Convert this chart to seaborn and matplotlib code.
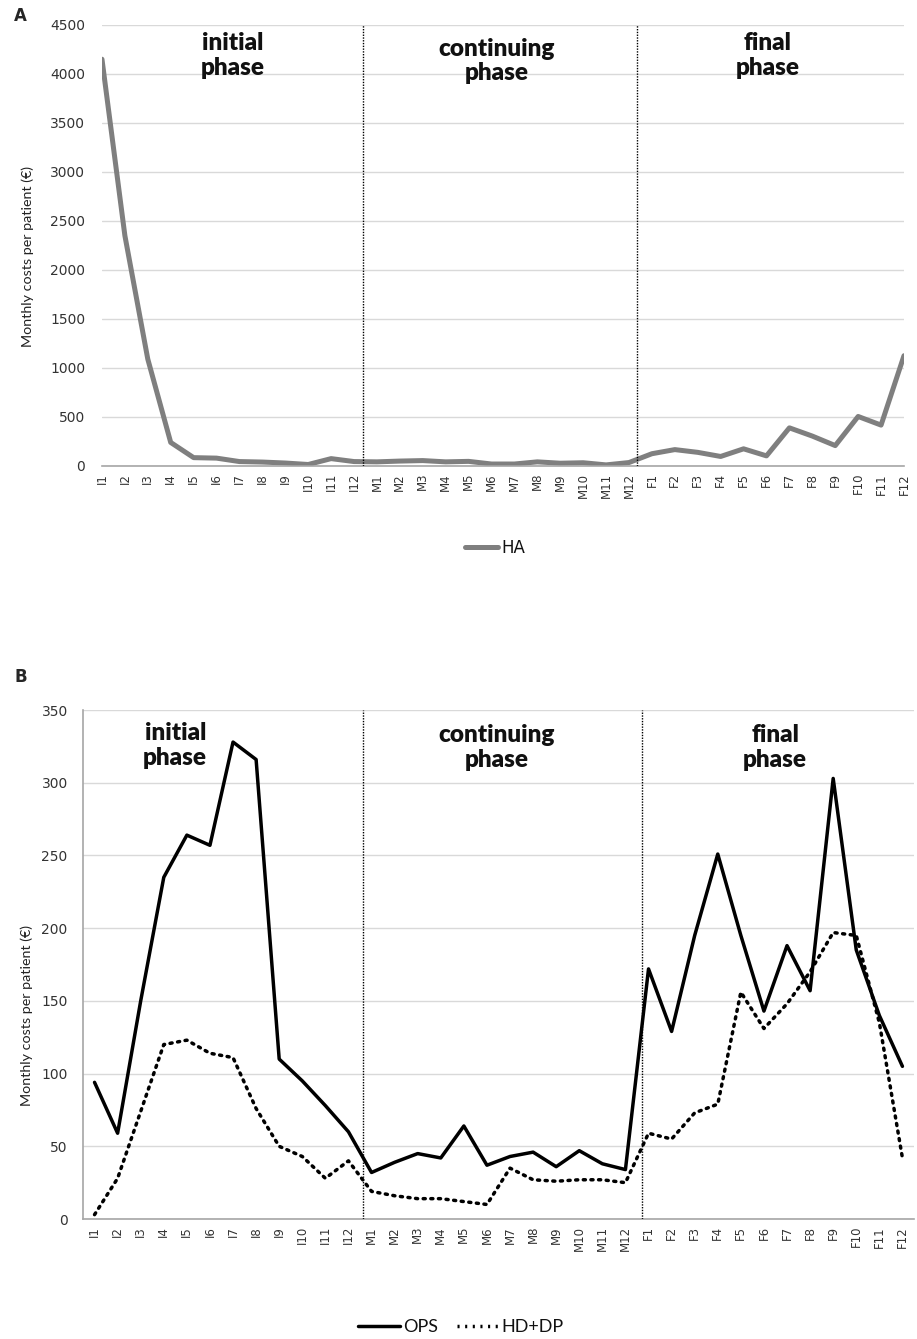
import pandas as pd
import matplotlib
matplotlib.use("Agg")
import matplotlib.pyplot as plt
import seaborn as sns

# month labels per phase
initial = ["I%d" % i for i in range(1, 13)]
continuing = ["M%d" % i for i in range(1, 13)]
final = ["F%d" % i for i in range(1, 13)]
months = initial + continuing + final

# panel A: hospital admissions
ha = [4150, 2350, 1090, 240, 85, 80, 45, 40, 30, 15, 75, 45,
      42, 50, 55, 42, 47, 20, 20, 42, 28, 33, 11, 35,
      125, 167, 139, 97, 175, 103, 389, 305, 208, 505, 417, 1125]

# panel B: outpatient services and HD+DP
ops = [94, 59, 150, 235, 264, 257, 328, 316, 110, 95, 78, 60,
       32, 39, 45, 42, 64, 37, 43, 46, 36, 47, 38, 34,
       172, 129, 195, 251, 195, 143, 188, 157, 303, 185, 140, 105]
hddp = [3, 28, 74, 120, 123, 114, 111, 76, 50, 43, 28, 40,
        19, 16, 14, 14, 12, 10, 35, 27, 26, 27, 27, 25,
        59, 55, 73, 79, 156, 131, 148, 170, 197, 195, 135, 42]

phase_labels = ["initial\nphase", "continuing\nphase", "final\nphase"]

sns.set_theme(style="white")
plt.rcParams["font.family"] = ["DejaVu Sans"]

GRID = "#d9d9d9"
TICK = "#333333"
DOTS = (0, (0.6, 1.6))

fig = plt.figure(figsize=(9.17, 13.39), dpi=100)
axA = fig.add_axes([0.1112, 0.652, 0.8746, 0.3294])
axB = fig.add_axes([0.0905, 0.0896, 0.9062, 0.3801])

dfA = pd.DataFrame({"month": months, "cost": ha, "series": "HA"})
sns.lineplot(data=dfA, x="month", y="cost", hue="series", palette=["#7f7f7f"],
             linewidth=3.6, sort=False, ax=axA)

dfB = pd.DataFrame({"month": months * 2, "cost": ops + hddp,
                    "series": ["OPS"] * 36 + ["HD+DP"] * 36})
sns.lineplot(data=dfB, x="month", y="cost", hue="series",
             palette=["black", "black"], linewidth=2.5, sort=False, ax=axB)
axB.lines[1].set_linestyle(DOTS)
axB.lines[1].set_dash_capstyle("round")
axB.lines[0].set_solid_joinstyle("round")
axA.lines[0].set_solid_joinstyle("round")

for ax, ymax, step, xlim, vlines, ypad in [
        (axA, 4500, 500, (0, 35), (11.37, 23.36), 12),
        (axB, 350, 50, (-0.5, 35.5), (11.64, 23.73), 11)]:
    ax.set_xlim(*xlim)
    ax.set_ylim(0, ymax)
    ax.set_yticks(range(0, ymax + 1, step))
    ax.yaxis.grid(True, color=GRID, linewidth=1)
    ax.xaxis.grid(False)
    ax.set_axisbelow(True)
    for s in ["top", "right", "left"]:
        ax.spines[s].set_visible(False)
    ax.spines["bottom"].set_color("#a6a6a6")
    ax.spines["bottom"].set_linewidth(1.2)
    ax.set_xticks(range(36))
    ax.set_xticklabels(months, rotation=90, fontsize=8.5, color=TICK)
    ax.tick_params(axis="y", labelsize=10, colors=TICK, length=0, pad=ypad)
    ax.tick_params(axis="x", length=0, pad=5)
    ax.set_xlabel("")
    ax.set_ylabel("Monthly costs per patient (€)", fontsize=10.3, color="#222222",
                  family=["Lato", "DejaVu Sans"])
    for v in vlines:
        ax.axvline(v, color="black", linewidth=1, linestyle=(0, (1, 1)),
                   ymin=0, ymax=1, zorder=3)

axB.spines["left"].set_visible(True)
axB.spines["left"].set_color("#a6a6a6")
axB.spines["left"].set_linewidth(1.2)

axA.yaxis.set_label_coords(-0.085, 0.474)
axB.yaxis.set_label_coords(-0.060, 0.40)

phase_font = dict(fontsize=17.5, fontweight="heavy", ha="center", va="center",
                  family=["Lato", "DejaVu Sans"], linespacing=1.15)
for ax, xs, ys in [(axA, (0.163, 0.4925, 0.83), (0.93, 0.918, 0.93)),
                   (axB, (0.111, 0.498, 0.833), (0.931, 0.927, 0.927))]:
    for lab, x, y in zip(phase_labels, xs, ys):
        ax.text(x, y, lab, transform=ax.transAxes, color="#111111", **phase_font)

legA = axA.legend(loc="center", bbox_to_anchor=(0.49, -0.186), frameon=False,
                  handlelength=2.0, handletextpad=0.2,
                  prop={"family": ["DejaVu Sans"], "size": 12})
legB = axB.legend(loc="center", bbox_to_anchor=(0.455, -0.212), frameon=False,
                  ncol=2, handlelength=2.3, handletextpad=0.2, columnspacing=1.0,
                  prop={"family": ["Liberation Sans Narrow", "Lato", "DejaVu Sans"],
                        "size": 13})
for leg in (legA, legB):
    for t in leg.get_texts():
        t.set_color("#111111")
for h in legB.get_lines():
    h.set_linewidth(2.5)
legB.get_lines()[1].set_linestyle(DOTS)

fig.text(14 / 917, 1 - 16 / 1339, "A", fontsize=12, fontweight="bold",
         ha="left", va="center")
fig.text(14 / 917, 1 - 677 / 1339, "B", fontsize=12, fontweight="bold",
         ha="left", va="center")

fig.savefig("out.png", dpi=100, facecolor="white")
